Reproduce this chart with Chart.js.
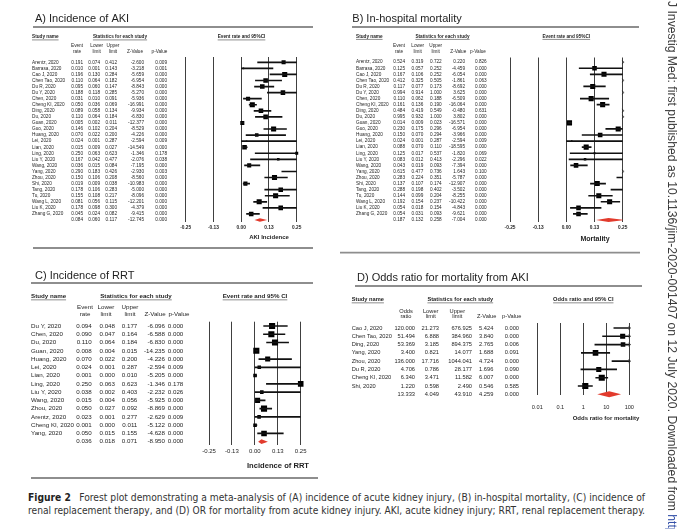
<!DOCTYPE html>
<html>
<head>
<meta charset="utf-8">
<title>Figure 2 forest plots</title>
<script src="https://cdn.jsdelivr.net/npm/chart.js@4.4.1/dist/chart.umd.min.js"></script>
<style>
  html, body { margin: 0; padding: 0; background: #fff; }
  body { width: 680px; height: 529px; overflow: hidden; position: relative; }
  canvas { position: absolute; }
  .cap { position: absolute; left: 28px; white-space: nowrap; transform-origin: 0 0;
         font-family: "Liberation Sans Narrow", "DejaVu Sans Condensed", sans-serif;
         font-size: 11px; line-height: 12px; color: #333; }
  .cap b { color: #222; margin-right: 9px; }
  .margin { position: absolute; left: 679px; top: 1px; white-space: nowrap;
            transform-origin: 0 0; transform: rotate(90deg);
            font-family: "Liberation Sans", Arial, sans-serif; font-size: 12.2px; line-height: 14px; color: #3a3a3a; }
  .margin span { color: #3350a8; }
</style>
</head>
<body>
<canvas id="chartA" width="340" height="250" style="left:0;top:0"></canvas>
<canvas id="chartB" width="340" height="255" style="left:340px;top:0"></canvas>
<canvas id="chartC" width="340" height="230" style="left:0;top:255px"></canvas>
<canvas id="chartD" width="340" height="175" style="left:340px;top:255px"></canvas>

<div class="cap" id="cap1" style="top:492px"><b>Figure 2</b>Forest plot demonstrating a meta-analysis of (A) incidence of acute kidney injury, (B) in-hospital mortality, (C) incidence of</div>
<div class="cap" id="cap2" style="top:504.7px">renal replacement therapy, and (D) OR for mortality from acute kidney injury. AKI, acute kidney injury; RRT, renal replacement therapy.</div>
<div class="margin">J Investig Med: first published as 10.1136/jim-2020-001407 on 12 July 2020. Downloaded from <span>http://jim.bmj.com/</span></div>

<script>
// ---------- A) Incidence of AKI ----------
const studiesA = ["Arentz, 2020", "Barrasa, 2020", "Cao J, 2020", "Chen Tao, 2020", "Du R, 2020", "Du Y, 2020",
  "Chen, 2020", "Cheng KI, 2020", "Ding, 2020", "Du, 2020", "Guan, 2020", "Guo, 2020", "Huang, 2020",
  "Lei, 2020", "Lian, 2020", "Ling, 2020", "Liu Y, 2020", "Wang, 2020", "Yang, 2020", "Zhou, 2020",
  "Shi, 2020", "Tang, 2020", "Tu, 2020", "Wang L, 2020", "Liu K, 2020", "Zhang G, 2020"];
const rateA  = [0.191, 0.010, 0.196, 0.110, 0.095, 0.188, 0.031, 0.050, 0.089, 0.110, 0.005, 0.146, 0.070,
  0.024, 0.015, 0.250, 0.167, 0.036, 0.290, 0.150, 0.019, 0.178, 0.155, 0.081, 0.178, 0.045];
const lowerA = [0.074, 0.001, 0.130, 0.064, 0.060, 0.118, 0.010, 0.036, 0.058, 0.064, 0.002, 0.102, 0.022,
  0.001, 0.009, 0.063, 0.042, 0.015, 0.183, 0.106, 0.009, 0.106, 0.108, 0.056, 0.098, 0.024];
const upperA = [0.412, 0.143, 0.284, 0.182, 0.147, 0.285, 0.091, 0.069, 0.134, 0.184, 0.011, 0.204, 0.200,
  0.287, 0.027, 0.623, 0.477, 0.084, 0.426, 0.208, 0.038, 0.283, 0.217, 0.115, 0.300, 0.082];
const zA = [-2.600, -3.218, -5.659, -6.954, -8.843, -5.270, -5.936, -16.991, -9.934, -6.830, -12.377, -8.529,
  -4.226, -2.594, -14.549, -1.346, -2.076, -7.195, -2.930, -8.560, -10.983, -5.000, -8.096, -12.201, -4.379, -9.415];
const pA = [0.009, 0.001, 0.000, 0.000, 0.000, 0.000, 0.000, 0.000, 0.000, 0.000, 0.000, 0.000, 0.000,
  0.009, 0.000, 0.178, 0.038, 0.000, 0.003, 0.000, 0.000, 0.000, 0.000, 0.000, 0.000, 0.000];
const weightA = [4, 1.5, 5, 4.5, 4.5, 4.5, 4, 5, 4.5, 4.5, 4, 5, 3.5, 1.5, 4.5, 3, 2.5, 4, 5, 5, 4, 4.5, 5, 5, 4.5, 4.5];
const pooledA = [0.084, 0.060, 0.117, -12.745, 0.000]; // rate, lower, upper, Z, p
const ticksA = ["-0.25", "-0.13", "0.00", "0.13", "0.25"];

// ---------- B) In-hospital mortality ----------
const studiesB = studiesA.slice();
const rateB  = [0.524, 0.125, 0.167, 0.412, 0.117, 0.994, 0.110, 0.161, 0.484, 0.995, 0.014, 0.230, 0.150,
  0.024, 0.088, 0.125, 0.083, 0.043, 0.615, 0.283, 0.137, 0.288, 0.144, 0.192, 0.054, 0.054];
const lowerB = [0.319, 0.057, 0.106, 0.325, 0.077, 0.914, 0.062, 0.136, 0.419, 0.932, 0.009, 0.175, 0.070,
  0.001, 0.070, 0.017, 0.012, 0.019, 0.477, 0.224, 0.107, 0.198, 0.099, 0.154, 0.018, 0.031];
const upperB = [0.722, 0.252, 0.252, 0.505, 0.173, 1.000, 0.188, 0.190, 0.549, 1.000, 0.023, 0.296, 0.294,
  0.287, 0.110, 0.537, 0.413, 0.093, 0.736, 0.351, 0.174, 0.402, 0.204, 0.237, 0.154, 0.093];
const zB = [0.220, -4.459, -6.054, -1.861, -8.692, 3.625, -6.509, -16.064, -0.480, 3.802, -16.571, -6.954,
  -3.966, -2.594, -18.595, -1.820, -2.296, -7.394, 1.643, -5.787, -12.907, -3.502, -8.255, -10.422, -4.843, -9.621];
const pB = [0.826, 0.000, 0.000, 0.063, 0.000, 0.000, 0.000, 0.000, 0.631, 0.000, 0.000, 0.000, 0.000,
  0.009, 0.000, 0.069, 0.022, 0.000, 0.100, 0.000, 0.000, 0.000, 0.000, 0.000, 0.000, 0.000];
const weightB = [4.5, 4.5, 5, 5, 5, 2.5, 5, 5, 5, 2.5, 5, 5, 4.5, 1.5, 5, 2, 2.5, 4.5, 5, 5, 5, 5, 5, 5, 4.5, 4.5];
const pooledB = [0.187, 0.132, 0.258, -7.004, 0.000];
const ticksB = ["-0.25", "-0.13", "0.00", "0.13", "0.25"];

// ---------- C) Incidence of RRT ----------
const studiesC = ["Du Y, 2020", "Chen, 2020", "Du, 2020", "Guan, 2020", "Huang, 2020", "Lei, 2020", "Lian, 2020",
  "Ling, 2020", "Liu Y, 2020", "Wang, 2020", "Zhou, 2020", "Arentz, 2020", "Cheng KI, 2020", "Yang, 2020"];
const rateC  = [0.094, 0.090, 0.110, 0.008, 0.070, 0.024, 0.001, 0.250, 0.038, 0.015, 0.050, 0.023, 0.001, 0.050];
const lowerC = [0.048, 0.047, 0.064, 0.004, 0.022, 0.001, 0.000, 0.063, 0.002, 0.004, 0.027, 0.001, 0.000, 0.015];
const upperC = [0.177, 0.164, 0.184, 0.015, 0.200, 0.287, 0.010, 0.623, 0.403, 0.056, 0.092, 0.277, 0.011, 0.155];
const zC = [-6.096, -6.588, -6.830, -14.235, -4.226, -2.594, -5.205, -1.346, -2.232, -5.925, -8.869, -2.629, -5.122, -4.628];
const pC = [0.000, 0.000, 0.000, 0.000, 0.000, 0.009, 0.000, 0.178, 0.026, 0.000, 0.000, 0.009, 0.000, 0.000];
const weightC = [6, 6, 6, 6, 5, 3.5, 3.5, 5.5, 3.5, 5, 6, 3.5, 3.5, 5.5];
const pooledC = [0.036, 0.018, 0.071, -8.950, 0.000];
const ticksC = ["-0.25", "-0.13", "0.00", "0.13", "0.25"];

// ---------- D) Odds ratio for mortality from AKI ----------
const studiesD = ["Cao J, 2020", "Chen Tao, 2020", "Ding, 2020", "Yang, 2020", "Zhou, 2020", "Du R, 2020",
  "Cheng KI, 2020", "Shi, 2020"];
const oddsD  = [120.000, 51.494, 53.369, 3.400, 136.000, 4.706, 6.340, 1.220];
const lowerD = [21.273, 6.888, 3.185, 0.821, 17.716, 0.786, 3.471, 0.598];
const upperD = [676.925, 384.960, 894.375, 14.077, 1044.041, 28.177, 11.582, 2.490];
const zD = [5.424, 3.840, 2.765, 1.688, 4.724, 1.696, 6.007, 0.546];
const pD = [0.000, 0.000, 0.006, 0.091, 0.000, 0.090, 0.000, 0.585];
const weightD = [5, 5, 4.5, 5.5, 5, 5, 6, 6];
const pooledD = [13.333, 4.049, 43.910, 4.259, 0.000];
const tickValuesD = [0.01, 0.1, 1, 10, 100];
const ticksD = ["0.01", "0.1", "1", "10", "100"];

const FONT = '"Liberation Sans", Arial, Helvetica, sans-serif';
const INK = '#1f1f1f';

function hline(ctx, x1, x2, y) {
  ctx.beginPath(); ctx.moveTo(x1, y); ctx.lineTo(x2, y); ctx.stroke();
}

// draws the table, titles, pooled diamond and overflow arrows around the chart area
function forestPlugin(p) {
  return {
    id: 'forest' + p.id,
    afterDatasetsDraw(chart) {
      const { ctx, chartArea: a, scales: { x, y } } = chart;
      const n = p.names.length;
      const yc = y.getPixelForValue(n);
      ctx.save();
      ctx.beginPath();
      ctx.rect(a.left, a.top - 10, a.right - a.left, a.bottom - a.top + 20);
      ctx.clip();
      ctx.beginPath();
      ctx.moveTo(x.getPixelForValue(p.pooled[1]), yc);
      ctx.lineTo(x.getPixelForValue(p.pooled[0]), yc - p.diamondH);
      ctx.lineTo(x.getPixelForValue(p.pooled[2]), yc);
      ctx.lineTo(x.getPixelForValue(p.pooled[0]), yc + p.diamondH);
      ctx.closePath();
      ctx.fillStyle = '#e23b2d';
      ctx.fill();
      ctx.restore();

      if (p.arrows) {
        ctx.save();
        ctx.strokeStyle = INK;
        ctx.lineWidth = 0.7;
        p.hi.forEach((h, i) => {
          const out = p.arrows === 'whole' ? p.lo[i] > p.xMax : h > p.xMax;
          if (!out) return;
          const py = y.getPixelForValue(i);
          ctx.beginPath();
          ctx.moveTo(a.right - 0.8, py - 1.6);
          ctx.lineTo(a.right + 1.4, py);
          ctx.lineTo(a.right - 0.8, py + 1.6);
          ctx.stroke();
        });
        ctx.restore();
      }
    },
    afterDraw(chart) {
      const { ctx, scales: { y } } = chart;
      const n = p.names.length;
      ctx.save();
      ctx.fillStyle = INK;
      ctx.strokeStyle = INK;

      ctx.font = `11px ${FONT}`;
      ctx.textAlign = 'left';
      ctx.textBaseline = 'alphabetic';
      ctx.fillText(p.title, p.titleX, p.titleY);

      ctx.save();
      ctx.strokeStyle = '#8e8e8e';
      ctx.lineWidth = 1.8;
      p.rules.forEach(r => hline(ctx, r[0], r[1], r[2]));
      ctx.restore();

      ctx.textBaseline = 'middle';
      ctx.font = `bold ${p.fs}px ${FONT}`;
      ctx.lineWidth = 0.5;
      p.heads.forEach(([t, hx, align]) => {
        ctx.textAlign = align;
        ctx.fillText(t, hx, p.headY);
        const w = ctx.measureText(t).width;
        const x0 = align === 'center' ? hx - w / 2 : hx;
        hline(ctx, x0, x0 + w, p.headY + p.fs * 0.62);
      });

      ctx.font = `${p.fs}px ${FONT}`;
      ctx.textAlign = 'center';
      p.colTop.forEach((t, c) => {
        if (t) ctx.fillText(t, p.colHeadX[c], p.colHeadY[0]);
        ctx.fillText(p.colBottom[c], p.colHeadX[c], p.colHeadY[1]);
      });

      ctx.textAlign = 'left';
      p.names.forEach((nm, i) => ctx.fillText(nm, p.nameX, y.getPixelForValue(i)));

      ctx.textAlign = 'right';
      [p.est, p.lo, p.hi, p.z, p.pv].forEach((col, c) => {
        col.forEach((v, i) => ctx.fillText(v.toFixed(3), p.valX[c], y.getPixelForValue(i)));
        ctx.fillText(p.pooled[c].toFixed(3), p.valX[c], y.getPixelForValue(n));
      });

      ctx.font = `bold ${p.axisFs}px ${FONT}`;
      ctx.textAlign = 'center';
      ctx.fillText(p.axisTitle, p.axisX, p.axisY);
      ctx.restore();
    }
  };
}

function drawForest(canvasId, p) {
  const rows = p.names.map((_, i) => i);
  const visible = v => v >= p.xMin && v <= p.xMax;
  const xScale = {
    type: p.xType,
    min: p.xMin,
    max: p.xMax,
    offset: false,
    // fixed axis band below the plot so the chart area lands where the reference has it
    afterFit: s => { s.height = p.axisH; },
    ticks: {
      autoSkip: false,
      maxRotation: 0,
      padding: p.tickPad,
      color: INK,
      font: { family: FONT, size: p.tickFs, weight: p.tickBold ? 'bold' : 'normal' },
      callback: (v, i) => p.tickLabels[i]
    },
    grid: { color: '#2a2a2a', lineWidth: 0.9, drawTicks: false },
    border: { display: false }
  };
  if (p.tickValues) {
    xScale.afterBuildTicks = s => { s.ticks = p.tickValues.map(v => ({ value: v })); };
  } else {
    xScale.ticks.stepSize = 0.125;
  }

  return new Chart(document.getElementById(canvasId), {
    type: 'bar',
    data: {
      datasets: [
        {
          type: 'bar',
          data: rows.map(i => ({ y: i, x: [p.lo[i], p.hi[i]] })),
          backgroundColor: '#111',
          borderWidth: 0,
          barThickness: 1,
          clip: 0
        },
        {
          type: 'scatter',
          indexAxis: 'x',
          data: rows.map(i => ({ x: p.est[i], y: i })),
          pointStyle: 'rect',
          pointRadius: rows.map(i => visible(p.est[i]) ? p.weight[i] * p.boxScale : 0),
          backgroundColor: '#000',
          borderWidth: 0,
          clip: 6
        }
      ]
    },
    options: {
      indexAxis: 'y',
      responsive: false,
      animation: false,
      events: [],
      layout: { padding: p.pad },
      plugins: { legend: { display: false }, tooltip: { enabled: false } },
      scales: {
        x: xScale,
        y: { type: 'linear', display: false, min: p.yMin, max: p.yMax, reverse: true, offset: false }
      }
    },
    plugins: [forestPlugin(p)]
  });
}

const rateHeadTop = ['Event', 'Lower', 'Upper', '', ''];
const oddsHeadTop = ['Odds', 'Lower', 'Upper', '', ''];
const headBottom = ['rate', 'limit', 'limit', 'Z-Value', 'p-Value'];
const oddsHeadBottom = ['ratio', 'limit', 'limit', 'Z-Value', 'p-Value'];

drawForest('chartA', {
  id: 'A', names: studiesA, est: rateA, lo: lowerA, hi: upperA, z: zA, pv: pA, weight: weightA, pooled: pooledA,
  xType: 'linear', xMin: -0.25, xMax: 0.25, tickLabels: ticksA,
  title: 'A) Incidence of AKI', titleX: 35, titleY: 22.3,
  rules: [[33, 313, 27], [33, 313, 248]],
  headY: 37,
  heads: [['Study name', 32, 'left'], ['Statistics for each study', 120, 'center'], ['Event rate and 95%CI', 241.5, 'center']],
  colTop: rateHeadTop, colBottom: headBottom, colHeadY: [46, 52], colHeadX: [77, 96.7, 113, 135, 159.5],
  nameX: 32, valX: [83, 100, 117, 144, 167], fs: 4.7,
  pad: { left: 185.7, right: 43.3, top: 57, bottom: 0 }, axisH: 28, yMin: -0.874, yMax: 26.33,
  tickFs: 4.8, tickPad: 3, tickBold: true,
  axisTitle: 'AKI Incidence', axisX: 269, axisY: 237, axisFs: 6,
  diamondH: 1.7, boxScale: 0.72, arrows: false
});

drawForest('chartB', {
  id: 'B', names: studiesB, est: rateB, lo: lowerB, hi: upperB, z: zB, pv: pB, weight: weightB, pooled: pooledB,
  xType: 'linear', xMin: -0.25, xMax: 0.25, tickLabels: ticksB,
  title: 'B) In-hospital mortality', titleX: 12.3, titleY: 21.7,
  rules: [[12, 299, 27], [0, 300, 252.7]],
  headY: 36.5,
  heads: [['Study name', 16, 'left'], ['Statistics for each study', 102.5, 'center'], ['Event rate and 95%CI', 226.3, 'center']],
  colTop: rateHeadTop, colBottom: headBottom, colHeadY: [45.7, 51.3], colHeadX: [59, 77.7, 95.7, 118.3, 138],
  nameX: 16, valX: [65, 83.3, 101.7, 125, 146.7], fs: 4.7,
  pad: { left: 170, right: 57.3, top: 57.5, bottom: 0 }, axisH: 33, yMin: -0.77, yMax: 26.33,
  tickFs: 4.8, tickPad: 3, tickBold: true,
  axisTitle: 'Mortality', axisX: 255, axisY: 239, axisFs: 7,
  diamondH: 2, boxScale: 0.72, arrows: 'whole'
});

drawForest('chartC', {
  id: 'C', names: studiesC, est: rateC, lo: lowerC, hi: upperC, z: zC, pv: pC, weight: weightC, pooled: pooledC,
  xType: 'linear', xMin: -0.25, xMax: 0.25, tickLabels: ticksC,
  title: 'C) Incidence of RRT', titleX: 35, titleY: 24.3,
  rules: [[31, 313, 28], [31, 318, 223]],
  headY: 41,
  heads: [['Study name', 31, 'left'], ['Statistics for each study', 136, 'center'], ['Event rate and 95% CI', 255, 'center']],
  colTop: rateHeadTop, colBottom: headBottom, colHeadY: [52.3, 59], colHeadX: [85, 106, 130, 155, 179],
  nameX: 31, valX: [91.7, 115, 137.3, 165, 183.3], fs: 6.2,
  pad: { left: 209, right: 39.3, top: 66.7, bottom: 0 }, axisH: 40, yMin: -0.52, yMax: 14.4,
  tickFs: 6, tickPad: 3, tickBold: false,
  axisTitle: 'Incidence of RRT', axisX: 278, axisY: 210.7, axisFs: 7.6,
  diamondH: 2.4, boxScale: 0.72, arrows: false
});

drawForest('chartD', {
  id: 'D', names: studiesD, est: oddsD, lo: lowerD, hi: upperD, z: zD, pv: pD, weight: weightD, pooled: pooledD,
  xType: 'logarithmic', xMin: 0.01, xMax: 100, tickLabels: ticksD, tickValues: tickValuesD,
  title: 'D) Odds ratio for mortality from AKI', titleX: 17, titleY: 26,
  rules: [[15, 302, 31]],
  headY: 44.3,
  heads: [['Study name', 11.7, 'left'], ['Statistics for each study', 120.3, 'center'], ['Odds ratio and 95% CI', 243.3, 'center']],
  colTop: oddsHeadTop, colBottom: oddsHeadBottom, colHeadY: [56, 61.7], colHeadX: [66, 90.7, 117.3, 146.7, 171.7],
  nameX: 11.7, valX: [75, 99, 132, 153.3, 179], fs: 5.7,
  pad: { left: 197.3, right: 50.7, top: 68, bottom: 0 }, axisH: 35, yMin: -0.6, yMax: 8.08,
  tickFs: 5.6, tickPad: 9, tickBold: false,
  axisTitle: 'Odds ratio for mortality', axisX: 266, axisY: 163, axisFs: 6,
  diamondH: 3, boxScale: 0.72, arrows: 'any'
});

// stretch the caption lines to the measured line length
[['cap1', 617], ['cap2', 617]].forEach(([id, target]) => {
  const el = document.getElementById(id);
  const w = el.getBoundingClientRect().width;
  if (w > 0) el.style.transform = `scaleX(${target / w})`;
});
</script>
</body>
</html>
